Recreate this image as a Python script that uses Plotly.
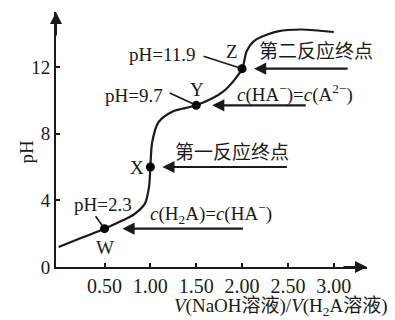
import plotly.graph_objects as go

# Titration curve
curve_x = [0.0, 0.25, 0.5, 0.7, 0.82, 0.94, 0.985, 1.0, 1.02, 1.09, 1.25, 1.5, 1.8, 2.0, 2.05, 2.14, 2.4, 2.65, 3.0]
curve_pH = [1.2, 1.75, 2.3, 2.8, 3.15, 3.8, 4.8, 6.0, 7.5, 8.7, 9.35, 9.7, 10.55, 11.9, 12.95, 13.6, 14.15, 14.25, 14.1]

# Key points
pt_names = ["W", "X", "Y", "Z"]
pt_x = [0.5, 1.0, 1.5, 2.0]
pt_pH = [2.3, 6.0, 9.7, 11.9]

x_ticks = [0.5, 1.0, 1.5, 2.0, 2.5, 3.0]
x_ticklabels = ["0.50", "1.00", "1.50", "2.00", "2.50", "3.00"]
y_ticks = [0, 4, 8, 12]
y_ticklabels = ["0", "4", "8", "12"]

FONT = "Liberation Serif, Times New Roman, Noto Sans CJK SC, serif"
INK = "#1a1a1a"

fig = go.Figure()
fig.add_trace(go.Scatter(x=curve_x, y=curve_pH, mode="lines",
                         line=dict(color=INK, width=2.2, shape="spline", smoothing=0.8),
                         hoverinfo="skip"))
fig.add_trace(go.Scatter(x=pt_x, y=pt_pH, mode="markers",
                         marker=dict(color="#000", size=9), hoverinfo="skip"))

ann = []
tf = dict(family=FONT, size=19, color=INK)

def pt(i):
    return pt_x[i], pt_pH[i]

# point letters
letter_shift = [(0, -19), (-13, 0), (1, 16), (-10, 17)]
for i, n in enumerate(pt_names):
    x, y = pt(i)
    ann.append(dict(x=x, y=y, text=n, showarrow=False, xshift=letter_shift[i][0],
                    yshift=letter_shift[i][1], font=tf))

# pH labels with leader lines
ph_labels = [(0, "pH=2.3", "center", -2, 24, -10, -14),
             (2, "pH=9.7", "right", -31, 10, -28, -13),
             (3, "pH=11.9", "right", -45, 14, -40, -13)]
for i, t, xa, xs, ys, ax, ay in ph_labels:
    x, y = pt(i)
    ann.append(dict(x=x, y=y, text=t, showarrow=False, xanchor=xa, xshift=xs, yshift=ys, font=tf))
    ann.append(dict(x=x, y=y, text="", showarrow=True, ax=ax, ay=ay, arrowhead=0,
                    arrowwidth=1.6, arrowcolor=INK, standoff=3))

# description texts with horizontal arrows
descs = [(0, "<i>c</i>(H<sub>2</sub>A)=<i>c</i>(HA<sup>−</sup>)", 43, 15, 140, 18),
         (1, "第一反应终点", 23, 15, 138, 12),
         (2, "<i>c</i>(HA<sup>−</sup>)=<i>c</i>(A<sup>2−</sup>)", 39, 12, 111, 16),
         (3, "第二反应终点", 15, 17, 107, 12)]
for i, t, xs, ys, ax, so in descs:
    x, y = pt(i)
    ann.append(dict(x=x, y=y, text=t, showarrow=False, xanchor="left", xshift=xs, yshift=ys, font=tf))
    ann.append(dict(x=x, y=y, text="", showarrow=True, ax=ax, ay=0, arrowhead=2, arrowsize=1.1,
                    arrowwidth=2.2, arrowcolor=INK, standoff=so))

# axis arrowheads
ann.append(dict(xref="paper", yref="paper", x=0, y=1.0, text="", showarrow=True, ax=0, ay=25,
                arrowhead=2, arrowsize=1.2, arrowwidth=2, arrowcolor=INK))
ann.append(dict(xref="paper", yref="paper", x=1.0, y=0, text="", showarrow=True, ax=-25, ay=0,
                arrowhead=2, arrowsize=1.2, arrowwidth=2, arrowcolor=INK))

# axis titles
ann.append(dict(xref="paper", yref="paper", x=1.074, y=-0.157, xanchor="right", yanchor="middle",
                text="<i>V</i>(NaOH溶液)/<i>V</i>(H<sub>2</sub>A溶液)", showarrow=False,
                font=dict(family=FONT, size=19, color=INK)))
ann.append(dict(xref="paper", yref="paper", x=-0.135, y=0.451, textangle=-90,
                text="pH", showarrow=False, font=tf))

# page body adds an 8px margin, so the figure is 8px smaller on each edge
fig.update_layout(
    width=387, height=312,
    margin=dict(l=48, r=28, t=4, b=53, autoexpand=False),
    paper_bgcolor="white", plot_bgcolor="white",
    showlegend=False,
    annotations=ann,
    xaxis=dict(range=[-0.029, 3.362], tickvals=x_ticks, ticktext=x_ticklabels,
               showline=True, linecolor=INK, linewidth=2, ticks="inside", ticklen=4,
               tickwidth=1.5, tickcolor=INK, showgrid=False, zeroline=False, automargin=False,
               ticklabelstandoff=0,
               tickfont=dict(family=FONT, size=20, color=INK)),
    yaxis=dict(range=[0, 15.3], tickvals=y_ticks, ticktext=y_ticklabels,
               showline=True, linecolor=INK, linewidth=2, ticks="inside", ticklen=4,
               tickwidth=1.5, tickcolor=INK, showgrid=False, zeroline=False, automargin=False,
               tickfont=dict(family=FONT, size=19, color=INK)),
)

fig.write_html("out.html")
